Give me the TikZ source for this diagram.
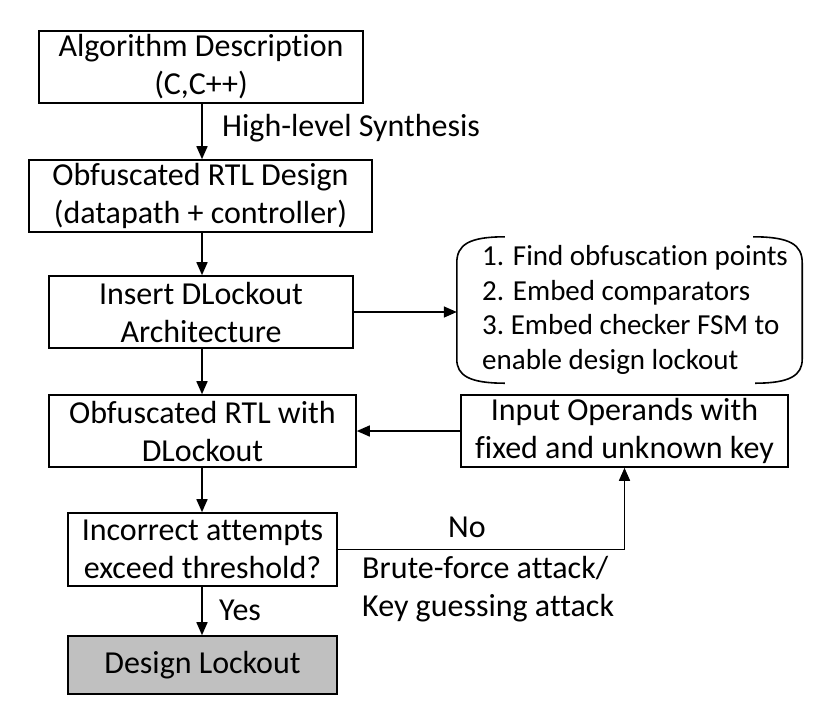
\documentclass[tikz,border=0pt]{standalone}
\usepackage{fontspec}
\setmainfont{Carlito}[Ligatures=NoCommon]
\usetikzlibrary{arrows.meta,calc}
\begin{document}
\begin{tikzpicture}[x=1pt,y=-1pt,
  box/.style={draw,line width=1.6pt,inner sep=0pt,align=center,font=\fontsize{32}{38}\selectfont},
  lbl/.style={inner sep=0pt,font=\fontsize{32}{38}\selectfont},
  arr/.style={line width=1.6pt,-{Triangle[length=13pt,width=11pt]}},
  brk/.style={line width=1.6pt}]
\useasboundingbox (0,0) rectangle (830,724);
\coordinate (col) at (202,0);
\node[box,minimum width=324pt,minimum height=72pt] (b1) at (201,67) {Algorithm Description\\(C,C++)};
\node[box,minimum width=343pt,minimum height=72pt] (b2) at (200.5,196) {Obfuscated RTL Design\\(datapath + controller)};
\node[box,minimum width=304pt,minimum height=72pt] (b3) at (201,312) {Insert DLockout\\Architecture};
\node[box,minimum width=307pt,minimum height=72pt] (b4) at (202.5,431) {Obfuscated RTL with\\DLockout};
\node[box,minimum width=269pt,minimum height=73pt] (b5) at (202.5,549.5) {Incorrect attempts\\exceed threshold?};
\node[box,minimum width=269pt,minimum height=58pt,fill={rgb,255:red,192;green,192;blue,192}] (b6) at (202.5,665) {Design Lockout};
\node[box,minimum width=327pt,minimum height=72pt] (b7) at (624.5,431) {Input Operands with\\fixed and unknown key};
\node[inner sep=0pt,minimum width=345pt,minimum height=146pt] (steps) at (629.5,310) {};
\node[lbl,anchor=west,align=left,font=\fontsize{29}{34.5}\selectfont] (stxt) at (482,310) {1. Find obfuscation points\\2. Embed comparators\\3.\ Embed checker FSM to\\enable design lockout};
\draw[brk] ($(steps.north west)+(48,0)$) .. controls ($(steps.north west)+(12,0)$) and ($(steps.north west)+(0,8)$) .. ($(steps.north west)+(0,26)$)
  -- ($(steps.south west)+(0,-24)$) .. controls ($(steps.south west)+(0,-8)$) and ($(steps.south west)+(12,0)$) .. ($(steps.south west)+(48,0)$);
\draw[brk] ($(steps.north east)+(-49,0)$) .. controls ($(steps.north east)+(-12,0)$) and ($(steps.north east)+(0,8)$) .. ($(steps.north east)+(0,26)$)
  -- ($(steps.south east)+(0,-24)$) .. controls ($(steps.south east)+(0,-8)$) and ($(steps.south east)+(-12,0)$) .. ($(steps.south east)+(-47,0)$);
\draw[arr] (b1.south -| col) -- (b2.north -| col);
\draw[arr] (b2.south -| col) -- (b3.north -| col);
\draw[arr] (b3.south -| col) -- (b4.north -| col);
\draw[arr] (b4.south -| col) -- (b5.north -| col);
\draw[arr] (b5.south -| col) -- (b6.north -| col);
\draw[arr] (b3.east) -- (b3.east -| steps.west);
\draw[arr] (b7.west) -- (b4.east);
\draw[arr] (b5.east) -| (b7.south);
\node[lbl,anchor=west] (hls) at (222,128) {High-level Synthesis};
\node[lbl,anchor=west] (yes) at (219,610) {Yes};
\node[lbl] (no) at (467,527) {No};
\node[lbl,anchor=west,align=left] (bf) at (362,589) {Brute-force attack/\\Key guessing attack};
\end{tikzpicture}
\end{document}
